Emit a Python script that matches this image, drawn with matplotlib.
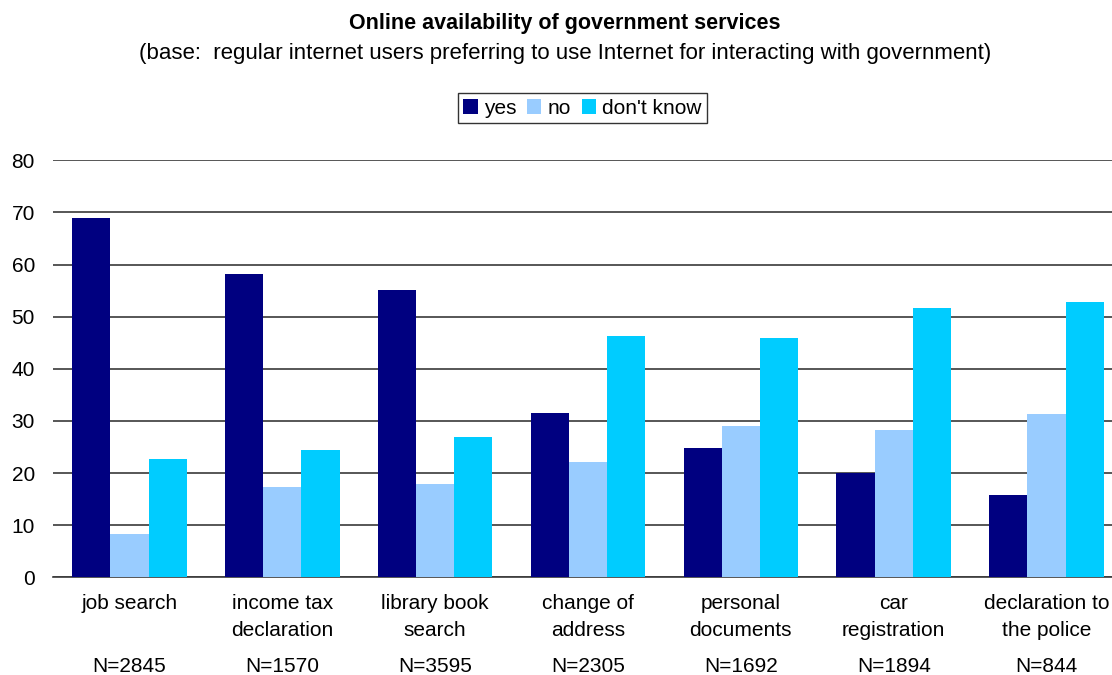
import numpy as np
import matplotlib.pyplot as plt

plt.rcParams["font.family"] = ["Liberation Sans", "DejaVu Sans"]

categories = ["job search", "income tax\ndeclaration", "library book\nsearch",
              "change of\naddress", "personal\ndocuments", "car\nregistration",
              "declaration to\nthe police"]
sample_sizes = ["N=2845", "N=1570", "N=3595", "N=2305", "N=1692", "N=1894", "N=844"]

yes = [68.9, 58.2, 55.1, 31.5, 24.8, 20.0, 15.8]
no = [8.3, 17.3, 17.9, 22.1, 29.0, 28.3, 31.3]
dont_know = [22.7, 24.4, 26.9, 46.3, 45.9, 51.7, 52.8]

series = [("yes", yes, "#000080"), ("no", no, "#99CCFF"), ("don't know", dont_know, "#00CCFF")]

fig = plt.figure(figsize=(11.12, 6.75), dpi=100)
ax = fig.add_axes([53 / 1112, 97.7 / 675, 1070 / 1112, 417 / 675])

x = np.arange(len(categories))
width = 0.25
for i, (name, vals, color) in enumerate(series):
    ax.bar(x + (i - 1) * width, vals, width, color=color, label=name, zorder=3)

ax.set_xlim(-0.5, len(categories) - 0.5)
ax.set_ylim(0, 80)
ax.set_yticks(range(0, 81, 10))
ax.yaxis.grid(True, color="#3a3a3a", linewidth=1.2, zorder=0)
ax.set_axisbelow(True)

for side in ["left", "right", "top"]:
    ax.spines[side].set_visible(False)
ax.spines["bottom"].set_color("#3a3a3a")
ax.spines["bottom"].set_linewidth(1.2)

ax.set_xticks(x)
ax.set_xticklabels(categories, fontsize=15, linespacing=1.55)
ax.tick_params(axis="x", length=0, pad=12)
ax.tick_params(axis="y", length=0, pad=13, labelsize=15)

# sample size under each category
for xi, n in zip(x, sample_sizes):
    ax.annotate(n, xy=(xi, 0), xytext=(0, -64), textcoords="offset points",
                ha="center", va="center", fontsize=15, annotation_clip=False)

fig.text(0.508, 1 - 23 / 675, "Online availability of government services",
         ha="center", va="center", fontsize=15.5, fontweight="bold")
fig.text(0.508, 1 - 53 / 675,
         "(base:  regular internet users preferring to use Internet for interacting with government)",
         ha="center", va="center", fontsize=16)

leg = fig.legend(loc="center", bbox_to_anchor=(582.5 / 1112, 1 - 108 / 675),
                 ncol=3, fontsize=15, frameon=True, fancybox=False,
                 handlelength=0.7, handleheight=0.7, handletextpad=0.3,
                 columnspacing=0.5, borderpad=0.25, borderaxespad=0)
leg.get_frame().set_edgecolor("black")
leg.get_frame().set_linewidth(1.0)

fig.savefig("out.png", dpi=100)
